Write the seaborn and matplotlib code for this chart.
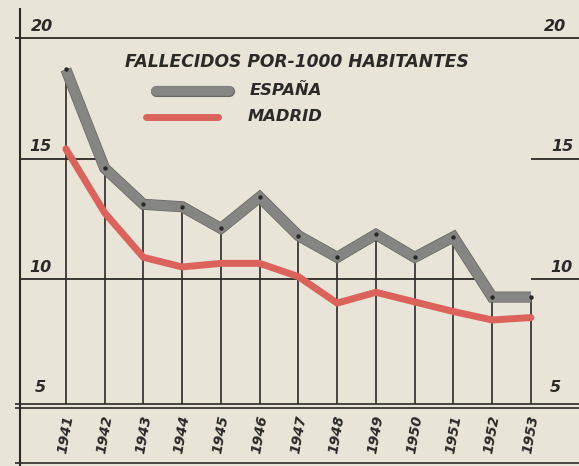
import matplotlib
matplotlib.use("Agg")
import matplotlib.pyplot as plt
import matplotlib.transforms as mtransforms
import matplotlib.patheffects as pe
import seaborn as sns
import pandas as pd

years = [1941, 1942, 1943, 1944, 1945, 1946, 1947, 1948, 1949, 1950, 1951, 1952, 1953]
espana = [18.7, 14.6, 13.1, 13.0, 12.1, 13.4, 11.8, 10.9, 11.85, 10.9, 11.75, 9.25, 9.25]
madrid = [15.4, 12.75, 10.9, 10.5, 10.65, 10.65, 10.1, 9.0, 9.45, 9.05, 8.65, 8.3, 8.4]
ytick_values = [20, 15, 10, 5]
ytick_labels = ["20", "15", "10", "5"]
title = "FALLECIDOS POR-1000 HABITANTES"
series_names = ["ESPAÑA", "MADRID"]

PAPER = "#e8e4d8"
INK = "#2b2a28"
GRAY = "#858583"
GRAY_EDGE = "#666663"
RED = "#dc625c"

sns.set_theme(style="white")
plt.rcParams["font.family"] = ["DejaVu Sans"]

fig = plt.figure(figsize=(5.79, 4.66), dpi=100, facecolor=PAPER)
ax = fig.add_axes([0, 0, 1, 1])
ax.set_facecolor(PAPER)
ax.set_xlim(1939.30, 1954.24)
ax.set_ylim(2.24, 21.58)
for s in ax.spines.values():
    s.set_visible(False)
ax.set_xticks([])
ax.set_yticks([])

df = pd.DataFrame({"year": years, "ESPAÑA": espana, "MADRID": madrid})

# horizontal rules
ax.hlines(20, 1939.68, 1954.24, color=INK, lw=1.3)
ax.hlines(15, 1939.82, 1941.9, color=INK, lw=1.3)
ax.hlines(15, 1953.0, 1954.24, color=INK, lw=1.3)
ax.hlines(10, 1939.82, 1951.6, color=INK, lw=1.3)
ax.hlines(10, 1953.0, 1954.24, color=INK, lw=1.3)
ax.hlines([4.81, 4.65], 1939.68, 1954.24, color=INK, lw=1.2)
ax.hlines(2.36, 1939.68, 1954.24, color=INK, lw=1.2)
# left vertical rule
ax.vlines(1939.82, 2.24, 21.24, color=INK, lw=1.5)
# stems from Spain values down to base
ax.vlines(df["year"], 4.81, df["ESPAÑA"], color=INK, lw=1.2, zorder=2)

# data lines
sns.lineplot(data=df, x="year", y="ESPAÑA", ax=ax, color=GRAY, lw=7.0,
             solid_joinstyle="miter", solid_capstyle="butt", zorder=3,
             path_effects=[pe.Stroke(linewidth=8.0, foreground=GRAY_EDGE), pe.Normal()])
sns.scatterplot(data=df, x="year", y="ESPAÑA", ax=ax, color=INK, s=10,
                linewidth=0, zorder=4)
sns.lineplot(data=df, x="year", y="MADRID", ax=ax, color=RED, lw=5.0,
             solid_joinstyle="round", solid_capstyle="round", zorder=3)
ax.set_xlabel("")
ax.set_ylabel("")

# y labels on both sides
blend = mtransforms.blended_transform_factory(ax.transAxes, ax.transData)
left_x = [0.073, 0.069, 0.069, 0.069]
right_x = [0.958, 0.972, 0.969, 0.960]
for v, lab, lx, rx in zip(ytick_values, ytick_labels, left_x, right_x):
    ax.text(lx, v + 0.48, lab, transform=blend, ha="center", va="center",
            fontsize=11.5, fontweight="bold", style="italic", color=INK)
    ax.text(rx, v + 0.48, lab, transform=blend, ha="center", va="center",
            fontsize=11.5, fontweight="bold", style="italic", color=INK)

# year labels
for yr in years:
    ax.text(yr, 3.55, str(yr), ha="center", va="center", rotation=80,
            fontsize=10, fontweight="bold", style="italic", color=INK)

# title / legend
ax.text(0.216, 0.867, title, transform=ax.transAxes, ha="left", va="center",
        fontsize=12.3, fontweight="bold", style="italic", color=INK)
ax.plot([0.270, 0.396], [0.805, 0.805], transform=ax.transAxes, color=GRAY,
        lw=7.0, solid_capstyle="round",
        path_effects=[pe.Stroke(linewidth=8.0, foreground=GRAY_EDGE), pe.Normal()])
ax.plot([0.252, 0.376], [0.749, 0.749], transform=ax.transAxes, color=RED,
        lw=5.0, solid_capstyle="round")
ax.text(0.432, 0.805, series_names[0], transform=ax.transAxes, ha="left", va="center",
        fontsize=11.8, fontweight="bold", style="italic", color=INK)
ax.text(0.428, 0.749, series_names[1], transform=ax.transAxes, ha="left", va="center",
        fontsize=11.8, fontweight="bold", style="italic", color=INK)

fig.savefig("out.png", dpi=100, facecolor=PAPER)
